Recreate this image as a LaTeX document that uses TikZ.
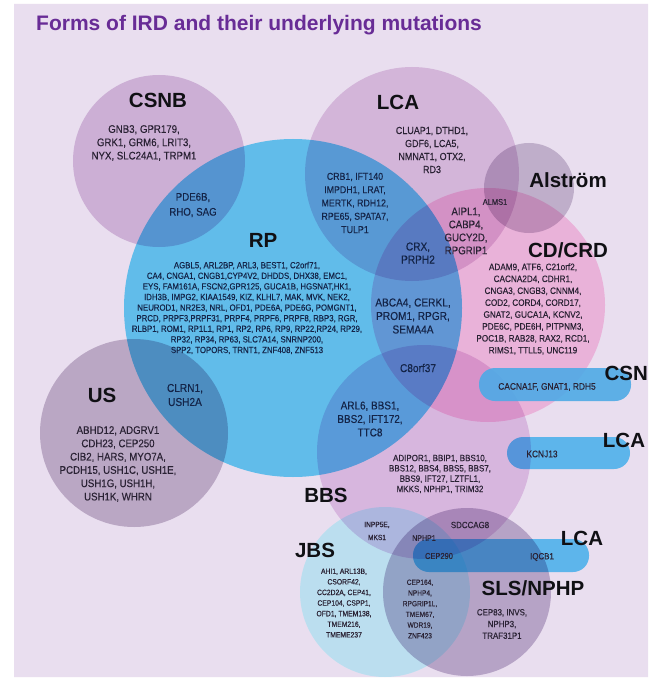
\documentclass[tikz,border=0pt]{standalone}
\usepackage{fontspec}
\setmainfont{Liberation Sans}
\newfontfamily\genefont{Liberation Sans}[FakeStretch=0.88, FakeBold=0.3]

% multiply factors for the disc and band fills
\definecolor{bgc}{RGB}{233,222,239}
\definecolor{csnbc}{RGB}{224,202,228}
\definecolor{lcac}{RGB}{231,209,232}
\definecolor{rpc}{RGB}{107,216,250}
\definecolor{usc}{RGB}{204,192,210}
\definecolor{alsc}{RGB}{210,200,216}
\definecolor{cdc}{RGB}{255,205,232}
\definecolor{bbsc}{RGB}{236,210,237}
\definecolor{jbsc}{RGB}{205,255,255}
\definecolor{slsc}{RGB}{200,188,212}
\definecolor{barc}{RGB}{102,209,251}
\definecolor{flatbarc}{RGB}{78,170,230}
\definecolor{titlec}{RGB}{104,44,150}
\definecolor{labelc}{RGB}{16,16,20}
\definecolor{navytxt}{RGB}{20,36,72}
\definecolor{greytxt}{RGB}{42,34,52}

\tikzset{
  dlabel/.style={inner sep=0pt, text=labelc, font=\bfseries\fontsize{20.5}{22}\selectfont},
  genes/.style n args={2}{inner sep=0pt, align=center, text=greytxt,
    font=\genefont\fontsize{#1}{#2}\selectfont},
  bluegenes/.style n args={2}{genes={#1}{#2}, text=navytxt},
  bar/.style={fill=barc, rounded corners=16pt}
}

\begin{document}
\begin{tikzpicture}[x=1pt,y=-1pt]
\useasboundingbox (0,0) rectangle (648,679);
\fill[white] (0,0) rectangle (648,679);

% panel, overlapping disease discs and single-gene bands
\begin{scope}[blend group=multiply]
  \fill[bgc] (14,4) rectangle (648,677);
  \fill[csnbc] (159,161) circle[radius=86pt];
  \fill[lcac] (412,174) circle[radius=107pt];
  \fill[alsc] (529,188) circle[radius=45pt];
  \fill[cdc] (488,305) circle[radius=117pt];
  \fill[rpc] (293,308) circle[radius=169pt];
  \fill[usc] (134,433) circle[radius=94pt];
  \fill[bbsc] (424,452) circle[radius=107pt];
  \fill[jbsc] (385,592) circle[radius=85pt];
  \fill[slsc] (467,592) circle[radius=84pt];
  \fill[bar] (507,437) rectangle (630,469);
  \fill[bar] (413,539) rectangle (589,572);
\end{scope}
% the CSNB band lies over the cone-rod disc almost unmixed
\fill[bar, fill=flatbarc, fill opacity=0.9] (479,368) rectangle (631,401);

% title
\node[anchor=base west, inner sep=0pt, text=titlec,
      font=\bfseries\fontsize{21}{24}\selectfont] (title) at (36,30.5)
  {Forms of IRD and their underlying mutations};

% disease labels
\node[dlabel] (lcsnb) at (158,100) {CSNB};
\node[dlabel] (llca) at (398,102) {LCA};
\node[dlabel] (lrp) at (263,240) {RP};
\node[dlabel] (lals) at (568,180) {Alström};
\node[dlabel] (lcd) at (568,250) {CD/CRD};
\node[dlabel, anchor=east] (lcsn) at (648,373) {CSN};
\node[dlabel] (llcab) at (624,440) {LCA};
\node[dlabel] (lus) at (102,395) {US};
\node[dlabel] (lbbs) at (326,495) {BBS};
\node[dlabel] (ljbs) at (315,550) {JBS};
\node[dlabel] (llcac) at (582,538) {LCA};
\node[dlabel] (lsls) at (533,588) {SLS/NPHP};

% gene lists
\node[genes={11}{13.3}] (gcsnb) at (144,143)
  {GNB3, GPR179,\\GRK1, GRM6, LRIT3,\\NYX, SLC24A1, TRPM1};
\node[bluegenes={11}{15}] (gcsnbrp) at (193,205) {PDE6B,\\RHO, SAG};
\node[genes={10.2}{13}] (glca) at (432,150)
  {CLUAP1, DTHD1,\\GDF6, LCA5,\\NMNAT1, OTX2,\\RD3};
\node[bluegenes={10}{13.3}] (glcarp) at (355,203)
  {CRB1, IFT140\\IMPDH1, LRAT,\\MERTK, RDH12,\\RPE65, SPATA7,\\TULP1};
\node[genes={8.5}{10}] (gals) at (495,202) {ALMS1};
\node[genes={11}{13}] (glcacd) at (466,231) {AIPL1,\\CABP4,\\GUCY2D,\\RPGRIP1};
\node[bluegenes={11.5}{13}] (gcrx) at (418,253) {CRX,\\PRPH2};
\node[bluegenes={8.9}{10.6}] (grp) at (247,308)
  {AGBL5, ARL2BP, ARL3, BEST1, C2orf71,\\
   CA4, CNGA1, CNGB1,CYP4V2, DHDDS, DHX38, EMC1,\\
   EYS, FAM161A, FSCN2,GPR125, GUCA1B, HGSNAT,HK1,\\
   IDH3B, IMPG2, KIAA1549, KIZ, KLHL7, MAK, MVK, NEK2,\\
   NEUROD1, NR2E3, NRL, OFD1, PDE6A, PDE6G, POMGNT1,\\
   PRCD, PRPF3,PRPF31, PRPF4, PRPF6, PRPF8, RBP3, RGR,\\
   RLBP1, ROM1, RP1L1, RP1, RP2, RP6, RP9, RP22,RP24, RP29,\\
   RP32, RP34, RP63, SLC7A14, SNRNP200,\\
   SPP2, TOPORS, TRNT1, ZNF408, ZNF513};
\node[genes={9.3}{11.9}] (gcd) at (533,309)
  {ADAM9, ATF6, C21orf2,\\CACNA2D4, CDHR1,\\CNGA3, CNGB3, CNNM4,\\
   COD2, CORD4, CORD17,\\GNAT2, GUCA1A, KCNV2,\\PDE6C, PDE6H, PITPNM3,\\
   POC1B, RAB28, RAX2, RCD1,\\RIMS1, TTLL5, UNC119};
\node[bluegenes={11.5}{13.5}] (gcdrp) at (413,316) {ABCA4, CERKL,\\PROM1, RPGR,\\SEMA4A};
\node[bluegenes={11.5}{13}] (gtriple) at (418,368) {C8orf37};
\node[bluegenes={11.3}{13.5}] (gbbsrp) at (370,419) {ARL6, BBS1,\\BBS2, IFT172,\\TTC8};
\node[genes={9.5}{11}] (gcsn) at (547,387) {CACNA1F, GNAT1, RDH5};
\node[genes={9.5}{11}] (glcab) at (542,454) {KCNJ13};
\node[genes={9.1}{10.3}] (gbbs) at (440,474)
  {ADIPOR1, BBIP1, BBS10,\\BBS12, BBS4, BBS5, BBS7,\\BBS9, IFT27, LZTFL1,\\MKKS, NPHP1, TRIM32};
\node[genes={11}{13.3}] (gus) at (118,464)
  {ABHD12, ADGRV1\\CDH23, CEP250\\CIB2, HARS, MYO7A,\\PCDH15, USH1C, USH1E,\\USH1G, USH1H,\\USH1K, WHRN};
\node[bluegenes={11.5}{14}] (gusrp) at (185,395) {CLRN1,\\USH2A};
\node[genes={7.5}{13}] (gbbsjbs) at (377,531) {INPP5E,\\MKS1};
\node[genes={8}{10}] (gnphp) at (424,538) {NPHP1};
\node[genes={8.5}{10}] (gcep) at (439,556) {CEP290};
\node[genes={9}{10}] (gsdc) at (470,525) {SDCCAG8};
\node[genes={9}{10}] (giqcb) at (542,557) {IQCB1};
\node[genes={7.7}{10.6}] (gjbs) at (344,603)
  {AHI1, ARL13B,\\CSORF42,\\CC2D2A, CEP41,\\CEP104, CSPP1,\\OFD1, TMEM138,\\TMEM216,\\TMEME237};
\node[genes={7.5}{10.7}] (gjbssls) at (420,609)
  {CEP164,\\NPHP4,\\RPGRIP1L,\\TMEM67,\\WDR19,\\ZNF423};
\node[genes={9}{11.7}] (gsls) at (502,624) {CEP83, INVS,\\NPHP3,\\TRAF31P1};
\end{tikzpicture}
\end{document}
